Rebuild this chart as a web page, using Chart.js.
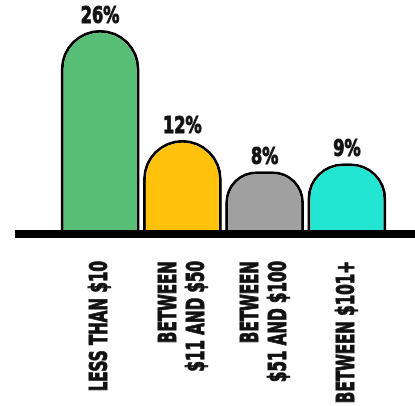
<!DOCTYPE html>
<html>
<head>
<meta charset="utf-8">
<script src="https://cdn.jsdelivr.net/npm/chart.js@4/dist/chart.umd.min.js"></script>
<style>
  html, body { margin: 0; padding: 0; background: #fff; }
  #wrap { width: 415px; height: 406px; }
</style>
</head>
<body>
<div id="wrap"><canvas id="chart" width="415" height="406"></canvas></div>
<script>
const categories = [
  ['LESS THAN $10'],
  ['BETWEEN', '$11 AND $50'],
  ['BETWEEN', '$51 AND $100'],
  ['BETWEEN $101+']
];
const shares = [26, 12, 8, 9];
const barColors = ['#58bd75', '#fec20c', '#a0a0a0', '#22e5d2'];

const labelFont = '"DejaVu Sans Condensed", "DejaVu Sans", sans-serif';

// value labels above each bar + rotated category labels + thick baseline
const decorations = {
  id: 'decorations',
  afterDatasetsDraw(chart) {
    const ctx = chart.ctx;
    const meta = chart.getDatasetMeta(0);
    const x = chart.scales.x;
    const y = chart.scales.y;
    const zero = y.getPixelForValue(0);

    // baseline
    ctx.save();
    ctx.fillStyle = '#000';
    ctx.fillRect(15, zero - 4, chart.width - 15, 8);
    ctx.restore();

    meta.data.forEach((bar, i) => {
      ctx.save();
      ctx.translate(bar.x, bar.y - 7);
      ctx.scale(0.78, 1);
      ctx.font = 'bold 23px ' + labelFont;
      ctx.fillStyle = '#111';
      ctx.strokeStyle = '#111';
      ctx.lineWidth = 1;
      ctx.textAlign = 'center';
      ctx.textBaseline = 'alphabetic';
      ctx.fillText(shares[i] + '%', 0, 0);
      ctx.strokeText(shares[i] + '%', 0, 0);
      ctx.restore();
    });

    categories.forEach((lines, i) => {
      const cx = x.getPixelForValue(i);
      ctx.save();
      ctx.translate(cx, 261);
      ctx.rotate(-Math.PI / 2);
      ctx.scale(0.70, 1);
      ctx.font = 'bold 24px ' + labelFont;
      ctx.fillStyle = '#111';
      ctx.strokeStyle = '#111';
      ctx.lineWidth = 1;
      ctx.textAlign = 'right';
      ctx.textBaseline = 'middle';
      lines.forEach((line, j) => {
        const off = (j - (lines.length - 1) / 2) * 28 + 1;
        ctx.fillText(line, 0, off);
        ctx.strokeText(line, 0, off);
      });
      ctx.restore();
    });
  }
};

new Chart(document.getElementById('chart'), {
  type: 'bar',
  data: {
    labels: categories,
    datasets: [{
      data: shares,
      backgroundColor: barColors,
      borderColor: '#000',
      borderWidth: 3,
      borderSkipped: 'bottom',
      borderRadius: { topLeft: 40, topRight: 40, bottomLeft: 0, bottomRight: 0 },
      barPercentage: 1,
      categoryPercentage: 0.96
    }]
  },
  options: {
    responsive: false,
    animation: false,
    layout: { padding: { top: 14, bottom: 172, left: 59, right: 27 } },
    plugins: { legend: { display: false }, tooltip: { enabled: false } },
    scales: {
      x: { display: false },
      y: { display: false, min: 0, max: 28 }
    }
  },
  plugins: [decorations]
});
</script>
</body>
</html>
